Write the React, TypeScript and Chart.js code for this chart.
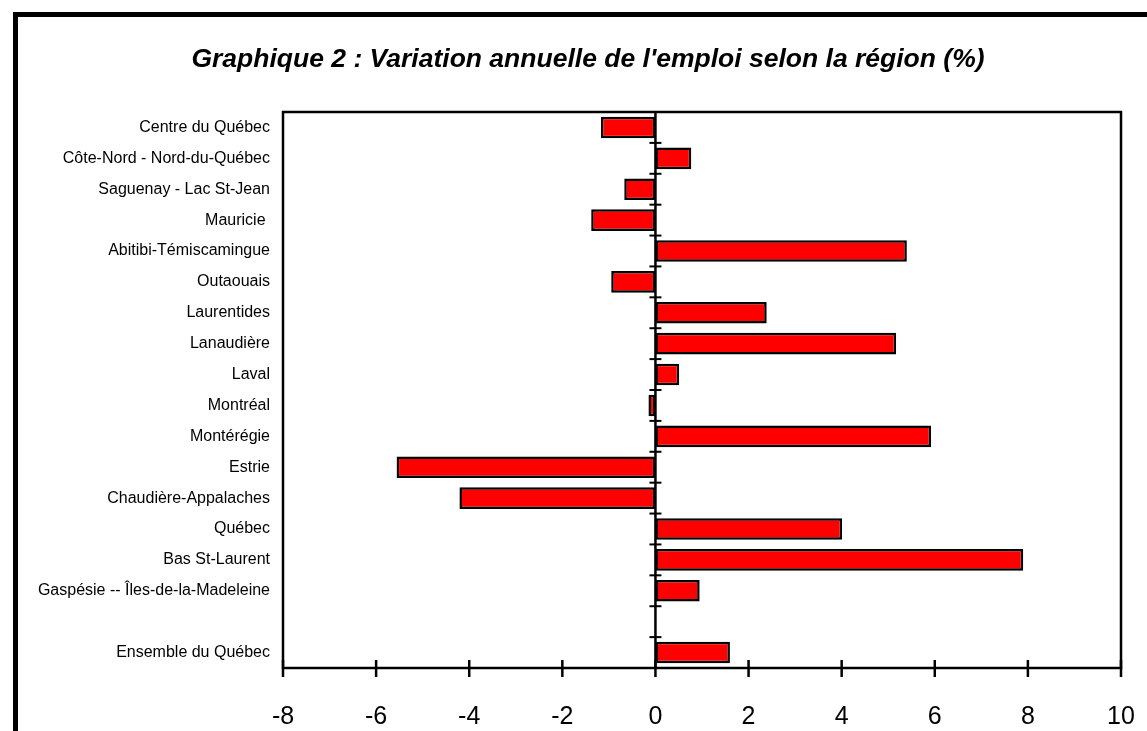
import React, { useEffect, useRef } from "react";
import { Chart, registerables } from "chart.js";

Chart.register(...registerables);

const titleText = "Graphique 2 : Variation annuelle de l'emploi selon la région (%)";

const categories = [
  "Centre du Québec",
  "Côte-Nord - Nord-du-Québec",
  "Saguenay - Lac St-Jean",
  "Mauricie ",
  "Abitibi-Témiscamingue",
  "Outaouais",
  "Laurentides",
  "Lanaudière",
  "Laval",
  "Montréal",
  "Montérégie",
  "Estrie",
  "Chaudière-Appalaches",
  "Québec",
  "Bas St-Laurent",
  "Gaspésie -- Îles-de-la-Madeleine",
  "",
  "Ensemble du Québec",
];

const variation = [
  -1.17, 0.77, -0.67, -1.38, 5.4, -0.95, 2.39, 5.17, 0.51, -0.15, 5.92, -5.56,
  -4.21, 4.01, 7.9, 0.95, null, 1.6,
];

const xTickValues = [-8, -6, -4, -2, 0, 2, 4, 6, 8, 10];

const FONT = "'Liberation Sans', Arial, Helvetica, sans-serif";

const framePlugin = {
  id: "framePlugin",
  afterDatasetsDraw(chart: any) {
    const { ctx, chartArea: a, scales } = chart;
    const x = scales.x;
    const y = scales.y;
    ctx.save();
    ctx.strokeStyle = "#000";
    ctx.lineWidth = 2.5;
    ctx.strokeRect(a.left, a.top, a.right - a.left, a.bottom - a.top);
    const x0 = x.getPixelForValue(0);
    ctx.beginPath();
    ctx.moveTo(x0, a.top);
    ctx.lineTo(x0, a.bottom);
    ctx.stroke();
    ctx.lineWidth = 2;
    for (let i = 0; i <= categories.length; i++) {
      const yy = y.getPixelForValue(i - 0.5);
      ctx.beginPath();
      ctx.moveTo(x0 - 6, yy);
      ctx.lineTo(x0 + 6, yy);
      ctx.stroke();
    }
    ctx.lineWidth = 2.5;
    for (const v of xTickValues) {
      const xx = x.getPixelForValue(v);
      ctx.beginPath();
      ctx.moveTo(xx, a.bottom - 8);
      ctx.lineTo(xx, a.bottom + 9);
      ctx.stroke();
    }
    ctx.restore();
  },
};

export default function App() {
  const canvasRef = useRef<HTMLCanvasElement | null>(null);

  useEffect(() => {
    if (!canvasRef.current) return;
    const chart = new Chart(canvasRef.current, {
      type: "bar",
      data: {
        labels: categories,
        datasets: [
          {
            data: variation as any,
            backgroundColor: "#ff0000",
            borderColor: "#000000",
            borderWidth: 2.5,
            borderSkipped: false,
            barPercentage: 0.7,
            categoryPercentage: 1,
          },
        ],
      },
      options: {
        indexAxis: "y",
        responsive: false,
        animation: false,
        devicePixelRatio: 1,
        layout: { padding: { top: 112, right: 26, left: 0, bottom: 0 } },
        plugins: {
          legend: { display: false },
          title: { display: false },
          tooltip: { enabled: false },
        },
        scales: {
          x: {
            type: "linear",
            min: -8,
            max: 10,
            grid: { display: false, drawTicks: true, tickLength: 34 },
            border: { display: false },
            ticks: {
              stepSize: 2,
              color: "#000",
              padding: 0,
              font: { family: FONT, size: 25 },
            },
            afterFit: (scale: any) => {
              scale.height = 63;
            },
          },
          y: {
            type: "category",
            grid: { display: false, drawTicks: true, tickLength: 13 },
            border: { display: false },
            ticks: {
              autoSkip: false,
              color: "#000",
              padding: 0,
              font: { family: FONT, size: 16 },
            },
            afterFit: (scale: any) => {
              scale.width = 283;
            },
          },
        },
      },
      plugins: [framePlugin],
    });
    return () => chart.destroy();
  }, []);

  return (
    <div
      style={{
        position: "fixed",
        left: 0,
        top: 0,
        width: 1147,
        height: 731,
        overflow: "hidden",
        background: "#fff",
      }}
    >
      <div
        style={{
          position: "absolute",
          left: 13,
          top: 12,
          width: 1300,
          height: 900,
          border: "5px solid #000",
          boxSizing: "border-box",
        }}
      />
      <canvas
        ref={canvasRef}
        width={1147}
        height={731}
        style={{ position: "absolute", left: 0, top: 0 }}
      />
      <div
        style={{
          position: "absolute",
          left: 0,
          top: 43,
          width: 1176,
          textAlign: "center",
          fontFamily: FONT,
          fontSize: 26.5,
          fontWeight: "bold",
          fontStyle: "italic",
          lineHeight: "30px",
          whiteSpace: "nowrap",
          color: "#000",
        }}
      >
        {titleText}
      </div>
    </div>
  );
}
